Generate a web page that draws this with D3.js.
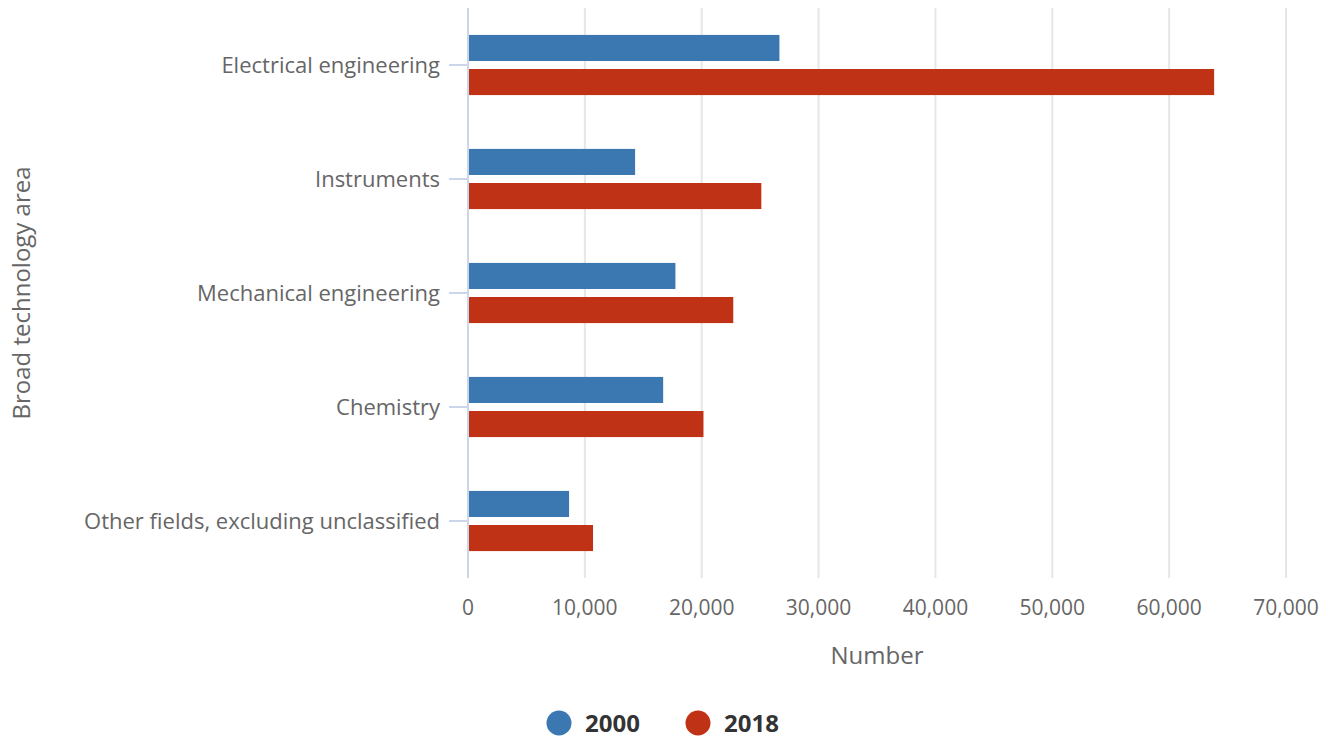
<!DOCTYPE html>
<html>
<head>
<meta charset="utf-8">
<script src="https://cdn.jsdelivr.net/npm/d3@7"></script>
<style>
  body { margin: 0; background: #fff; font-family: "Open Sans", sans-serif; }
</style>
</head>
<body>
<div id="app"></div>
<script>
const categories = ['Electrical engineering', 'Instruments', 'Mechanical engineering', 'Chemistry', 'Other fields, excluding unclassified']
const years = ['2000', '2018']
const values2000 = [26650, 14300, 17750, 16700, 8650]
const values2018 = [63850, 25100, 22700, 20150, 10700]
const xTicks = [0, 10000, 20000, 30000, 40000, 50000, 60000, 70000]
const colors = ['#3b78b1', '#bf3215']

const width = 1334, height = 738
const plotLeft = 468, plotRight = 1286, plotTop = 8, plotBottom = 578

const svg = d3.select('#app')
  .append('svg')
  .attr('width', width)
  .attr('height', height)

const x = d3.scaleLinear().domain([0, 70000]).range([plotLeft, plotRight])
const y = d3.scaleBand().domain(categories).range([plotTop, plotBottom])
const inner = d3.scaleBand().domain(years).range([0, y.bandwidth()]).paddingInner(0.235).paddingOuter(0.79)

// grid
svg.append('g')
  .selectAll('line')
  .data(xTicks.slice(1))
  .join('line')
  .attr('x1', d => x(d)).attr('x2', d => x(d))
  .attr('y1', plotTop).attr('y2', plotBottom)
  .attr('stroke', '#e6e6e6')
  .attr('stroke-width', 2)

// x tick labels
svg.append('g')
  .selectAll('text')
  .data(xTicks)
  .join('text')
  .attr('x', d => x(d))
  .attr('y', 615)
  .attr('text-anchor', 'middle')
  .attr('fill', '#666')
  .attr('font-size', 21)
  .text(d => d3.format(',')(d))

// bars
const series = [values2000, values2018]
const g = svg.append('g')
years.forEach((yr, s) => {
  g.selectAll('rect.s' + s)
    .data(categories)
    .join('rect')
    .attr('class', 's' + s)
    .attr('x', x(0))
    .attr('y', d => y(d) + inner(yr))
    .attr('width', (d, i) => x(series[s][i]) - x(0))
    .attr('height', inner.bandwidth())
    .attr('fill', colors[s])
})

// y axis line and ticks
svg.append('line')
  .attr('x1', plotLeft).attr('x2', plotLeft)
  .attr('y1', plotTop).attr('y2', plotBottom)
  .attr('stroke', '#ccd6eb')
  .attr('stroke-width', 2)

svg.append('g')
  .selectAll('line')
  .data(categories)
  .join('line')
  .attr('x1', plotLeft - 19).attr('x2', plotLeft)
  .attr('y1', d => y(d) + y.bandwidth() / 2)
  .attr('y2', d => y(d) + y.bandwidth() / 2)
  .attr('stroke', '#ccd6eb')
  .attr('stroke-width', 2)

svg.append('g')
  .selectAll('text')
  .data(categories)
  .join('text')
  .attr('x', 440)
  .attr('y', d => y(d) + y.bandwidth() / 2 + 8)
  .attr('text-anchor', 'end')
  .attr('fill', '#666')
  .attr('font-size', 22)
  .text(d => d)

// axis titles
svg.append('text')
  .attr('x', (plotLeft + plotRight) / 2)
  .attr('y', 664)
  .attr('text-anchor', 'middle')
  .attr('fill', '#666')
  .attr('font-size', 24)
  .text('Number')

svg.append('text')
  .attr('transform', `translate(30, ${(plotTop + plotBottom) / 2}) rotate(-90)`)
  .attr('text-anchor', 'middle')
  .attr('fill', '#666')
  .attr('font-size', 24)
  .text('Broad technology area')

// legend
const legend = svg.append('g')
const legendX = [559, 698]
years.forEach((yr, s) => {
  legend.append('circle')
    .attr('cx', legendX[s]).attr('cy', 723)
    .attr('r', 12.5)
    .attr('fill', colors[s])
  legend.append('text')
    .attr('x', legendX[s] + 26).attr('y', 732)
    .attr('fill', '#333')
    .attr('font-size', 24)
    .attr('font-weight', 'bold')
    .text(yr)
})
</script>
</body>
</html>
